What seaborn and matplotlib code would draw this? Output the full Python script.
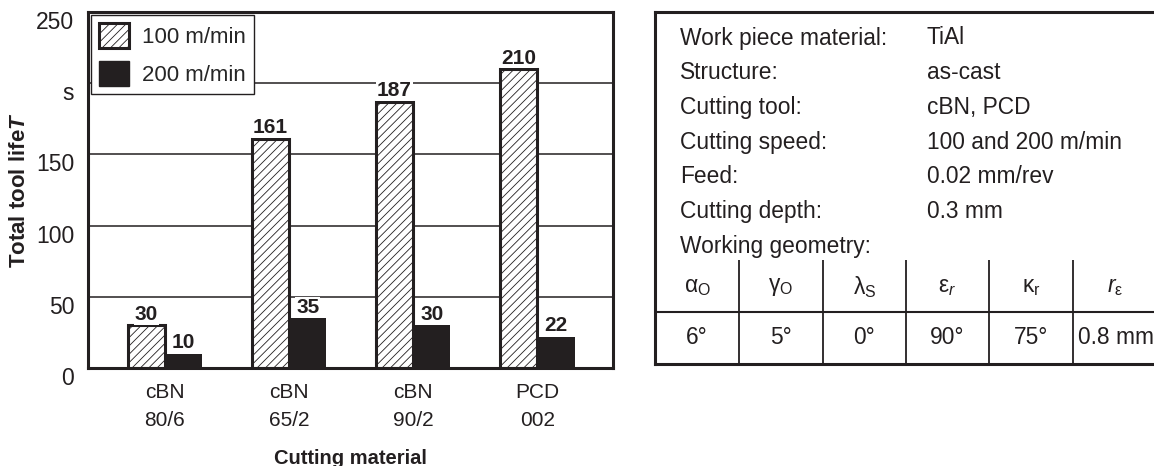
import pandas as pd
import numpy as np
import matplotlib
matplotlib.use('Agg')
import matplotlib.pyplot as plt
import seaborn as sns
from matplotlib.patches import Patch
from matplotlib.transforms import ScaledTranslation

# daten
materials = ['cBN\n80/6', 'cBN\n65/2', 'cBN\n90/2', 'PCD\n002']
speeds = ['100 m/min', '200 m/min']
life_100 = [30, 161, 187, 210]
life_200 = [10, 35, 30, 22]
ytick_vals = [0, 50, 100, 150, 200, 250]
ytick_labels = ['0', '50', '100', '150', 's', '250']

info_labels = ['Work piece material:', 'Structure:', 'Cutting tool:', 'Cutting speed:',
               'Feed:', 'Cutting depth:', 'Working geometry:']
info_values = ['TiAl', 'as-cast', 'cBN, PCD', '100 and 200 m/min', '0.02 mm/rev', '0.3 mm', '']
geo_headers = [r'$\mathrm{\alpha}_\mathrm{O}$', r'$\mathrm{\gamma}_\mathrm{O}$', r'$\mathrm{\lambda}_\mathrm{S}$',
               r'$\mathrm{\varepsilon}_{r}$', r'$\mathrm{\kappa}_\mathrm{r}$', r'$r_{\mathrm{\varepsilon}}$']
geo_values = ['6°', '5°', '0°', '90°', '75°', '0.8 mm']

sns.set_style('white')
plt.rcParams['font.family'] = ['Liberation Sans', 'DejaVu Sans']
plt.rcParams['mathtext.fontset'] = 'custom'
plt.rcParams['mathtext.rm'] = 'Liberation Sans'
plt.rcParams['mathtext.it'] = 'Liberation Sans:italic'
plt.rcParams['mathtext.bf'] = 'Liberation Sans:bold'
plt.rcParams['mathtext.bfit'] = 'Liberation Sans:bold:italic'
plt.rcParams['hatch.linewidth'] = 0.6
plt.rcParams['hatch.color'] = '#231f20'

dark = '#231f20'

df = pd.DataFrame({
    'material': materials * 2,
    'speed': [speeds[0]] * len(materials) + [speeds[1]] * len(materials),
    'life': life_100 + life_200,
})

W, H = 1154, 466
fig = plt.figure(figsize=(W / 100, H / 100), dpi=100)
ax = fig.add_axes([88 / W, (H - 368) / H, (613 - 88) / W, (368 - 12) / H])

sns.barplot(data=df, x='material', y='life', hue='speed', width=0.6, ax=ax,
            palette=['white', dark], saturation=1, errorbar=None, legend=False)

for bar in ax.containers[0]:
    bar.set_hatch('////')
    bar.set_edgecolor(dark)
    bar.set_linewidth(2.2)
for bar in ax.containers[1]:
    bar.set_edgecolor(dark)
    bar.set_linewidth(0)

for cont in ax.containers:
    ax.bar_label(cont, padding=1, fontsize=15, fontweight='bold', color=dark,
                 bbox=dict(facecolor='white', edgecolor='none', pad=0.4))

ax.set_xlim(-0.62, 3.61)
ax.set_ylim(0, 250)
ax.set_yticks(ytick_vals)
ax.set_yticklabels(ytick_labels)
ax.yaxis.grid(True, color=dark, lw=1.1)
ax.xaxis.grid(False)
ax.set_axisbelow(True)
ax.tick_params(axis='y', length=0, pad=10, labelsize=16.5, colors=dark)
ax.tick_params(axis='x', length=0, pad=11, labelsize=15, colors=dark)
for lab in ax.get_xticklabels():
    lab.set_linespacing(1.55)
for lab in ax.get_yticklabels():
    lab.set_transform(lab.get_transform() + ScaledTranslation(0, -8 / 100, fig.dpi_scale_trans))
for sp in ax.spines.values():
    sp.set_color(dark)
    sp.set_linewidth(2.2)

ax.set_xlabel('Cutting material', fontsize=14.5, fontweight='bold', color=dark, labelpad=14)
ax.set_ylabel(r'Total tool life$\mathbfit{T}$', fontsize=16, fontweight='bold', color=dark, labelpad=4)

handles = [Patch(facecolor='white', edgecolor=dark, hatch='////', linewidth=2.2),
           Patch(facecolor=dark, edgecolor=dark)]
leg = ax.legend(handles, speeds, loc='upper left', bbox_to_anchor=(0, 1), borderaxespad=0.15,
                fontsize=16, frameon=True, fancybox=False, framealpha=1,
                handlelength=1.35, handleheight=1.35, handletextpad=0.6,
                labelspacing=0.6, borderpad=0.35)
leg.get_frame().set_edgecolor(dark)
leg.get_frame().set_linewidth(1.0)

# tabelle rechts
x0, x1, y0, y1 = 655, 1170, 12, 364
ax2 = fig.add_axes([x0 / W, (H - y1) / H, (x1 - x0) / W, (y1 - y0) / H])
ax2.set_xlim(x0, x1)
ax2.set_ylim(y1, y0)
ax2.set_xticks([])
ax2.set_yticks([])
for sp in ax2.spines.values():
    sp.set_color(dark)
    sp.set_linewidth(2.2)

for i, (lab, val) in enumerate(zip(info_labels, info_values)):
    yy = 38 + i * 34.7
    ax2.text(680, yy, lab, fontsize=16.4, va='center', ha='left', color=dark)
    ax2.text(927, yy, val, fontsize=16.4, va='center', ha='left', color=dark)

col_edges = [655, 739, 823, 906, 989, 1073, 1157]
ax2.vlines(col_edges[1:-1], 260, y1, color=dark, lw=1.3)
ax2.hlines(312, x0, x1, color=dark, lw=1.5)
for j, (hd, val) in enumerate(zip(geo_headers, geo_values)):
    cx = (col_edges[j] + col_edges[j + 1]) / 2
    ax2.text(cx, 287, hd, fontsize=16.4, va='center', ha='center', color=dark)
    if j == len(geo_values) - 1:
        ax2.text(col_edges[j] + 5, 337, val, fontsize=16.4, va='center', ha='left', color=dark)
    else:
        ax2.text(cx, 337, val, fontsize=16.4, va='center', ha='center', color=dark)

fig.savefig('out.png', dpi=100)
